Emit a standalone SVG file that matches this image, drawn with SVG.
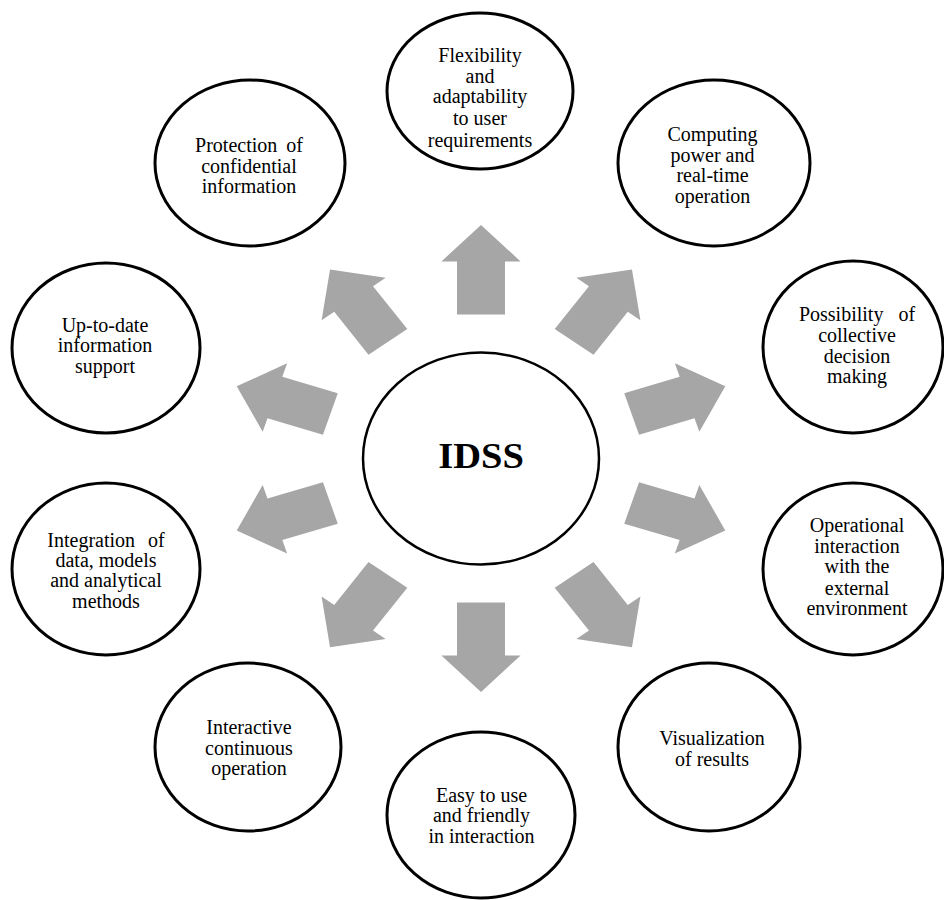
<svg xmlns="http://www.w3.org/2000/svg" xmlns:xlink="http://www.w3.org/1999/xlink" width="944" height="900" viewBox="0 0 944 900">
<style>
.c{fill:#fff;stroke:#000;stroke-width:3}
.a{fill:#a6a6a6}
</style>
<defs>
<path id="arr" d="M -21.8,-144 L -21.8,-197 L -36,-197 L 0,-233.5 L 36,-197 L 21.8,-197 L 21.8,-144 Z"/>
</defs>
<rect width="944" height="900" fill="#fff"/>
<g id="connectors" class="a">
<use xlink:href="#arr" transform="translate(481,458.4) scale(1.1,1) rotate(0)"/>
<use xlink:href="#arr" transform="translate(481,458.4) scale(1.1,1) rotate(36)"/>
<use xlink:href="#arr" transform="translate(481,458.4) scale(1.1,1) rotate(72)"/>
<use xlink:href="#arr" transform="translate(481,458.4) scale(1.1,1) rotate(108)"/>
<use xlink:href="#arr" transform="translate(481,458.4) scale(1.1,1) rotate(144)"/>
<use xlink:href="#arr" transform="translate(481,458.4) scale(1.1,1) rotate(180)"/>
<use xlink:href="#arr" transform="translate(481,458.4) scale(1.1,1) rotate(216)"/>
<use xlink:href="#arr" transform="translate(481,458.4) scale(1.1,1) rotate(252)"/>
<use xlink:href="#arr" transform="translate(481,458.4) scale(1.1,1) rotate(288)"/>
<use xlink:href="#arr" transform="translate(481,458.4) scale(1.1,1) rotate(324)"/>
</g>
<g id="idss">
<ellipse cx="481" cy="458.5" rx="118" ry="106" fill="#fff" stroke="#000" stroke-width="2.5"/>
<text transform="translate(481,0) scale(1.1,1)" x="0" y="468" font-family="'Liberation Serif','Times New Roman',serif" font-size="35" font-weight="bold" text-anchor="middle">IDSS</text>
</g>
<g font-family="'Liberation Serif','Times New Roman',serif" font-size="20" text-anchor="middle" fill="#000">
<g id="flexibility">
<ellipse class="c" cx="480" cy="91" rx="93" ry="78"/>
<text><tspan x="480" y="62">Flexibility</tspan><tspan x="480" y="83">and</tspan><tspan x="480" y="103">adaptability</tspan><tspan x="480" y="125">to user</tspan><tspan x="480" y="147">requirements</tspan></text>
</g>
<g id="computing">
<ellipse class="c" cx="714" cy="163" rx="96" ry="83"/>
<text><tspan x="712.5" y="141">Computing</tspan><tspan x="712.5" y="162">power and</tspan><tspan x="712.5" y="182">real-time</tspan><tspan x="712.5" y="203">operation</tspan></text>
</g>
<g id="collective">
<ellipse class="c" cx="853" cy="347" rx="90" ry="86"/>
<text><tspan x="857" y="321" word-spacing="10">Possibility of</tspan><tspan x="857" y="342">collective</tspan><tspan x="857" y="363">decision</tspan><tspan x="857" y="383">making</tspan></text>
</g>
<g id="operational">
<ellipse class="c" cx="853" cy="569" rx="90" ry="86"/>
<text><tspan x="857" y="532">Operational</tspan><tspan x="857" y="553">interaction</tspan><tspan x="857" y="573">with the</tspan><tspan x="857" y="595">external</tspan><tspan x="857" y="615">environment</tspan></text>
</g>
<g id="visualization">
<ellipse class="c" cx="709" cy="747" rx="91" ry="84"/>
<text><tspan x="712" y="745">Visualization</tspan><tspan x="712" y="766">of results</tspan></text>
</g>
<g id="easy">
<ellipse class="c" cx="481" cy="815" rx="94" ry="83"/>
<text><tspan x="481.5" y="802">Easy to use</tspan><tspan x="481.5" y="822">and friendly</tspan><tspan x="481.5" y="843">in interaction</tspan></text>
</g>
<g id="interactive">
<ellipse class="c" cx="248" cy="747" rx="93" ry="84"/>
<text><tspan x="249" y="734">Interactive</tspan><tspan x="249" y="755">continuous</tspan><tspan x="249" y="775">operation</tspan></text>
</g>
<g id="integration">
<ellipse class="c" cx="106" cy="569" rx="94" ry="86"/>
<text><tspan x="106" y="547" word-spacing="8">Integration of</tspan><tspan x="106" y="567">data, models</tspan><tspan x="106" y="587">and analytical</tspan><tspan x="106" y="608">methods</tspan></text>
</g>
<g id="uptodate">
<ellipse class="c" cx="106" cy="348" rx="94" ry="85"/>
<text><tspan x="105" y="332">Up-to-date</tspan><tspan x="105" y="352">information</tspan><tspan x="105" y="373">support</tspan></text>
</g>
<g id="protection">
<ellipse class="c" cx="250" cy="163" rx="95" ry="83"/>
<text><tspan x="249" y="152" word-spacing="4">Protection of</tspan><tspan x="249" y="173">confidential</tspan><tspan x="249" y="193">information</tspan></text>
</g>
</g>
</svg>
